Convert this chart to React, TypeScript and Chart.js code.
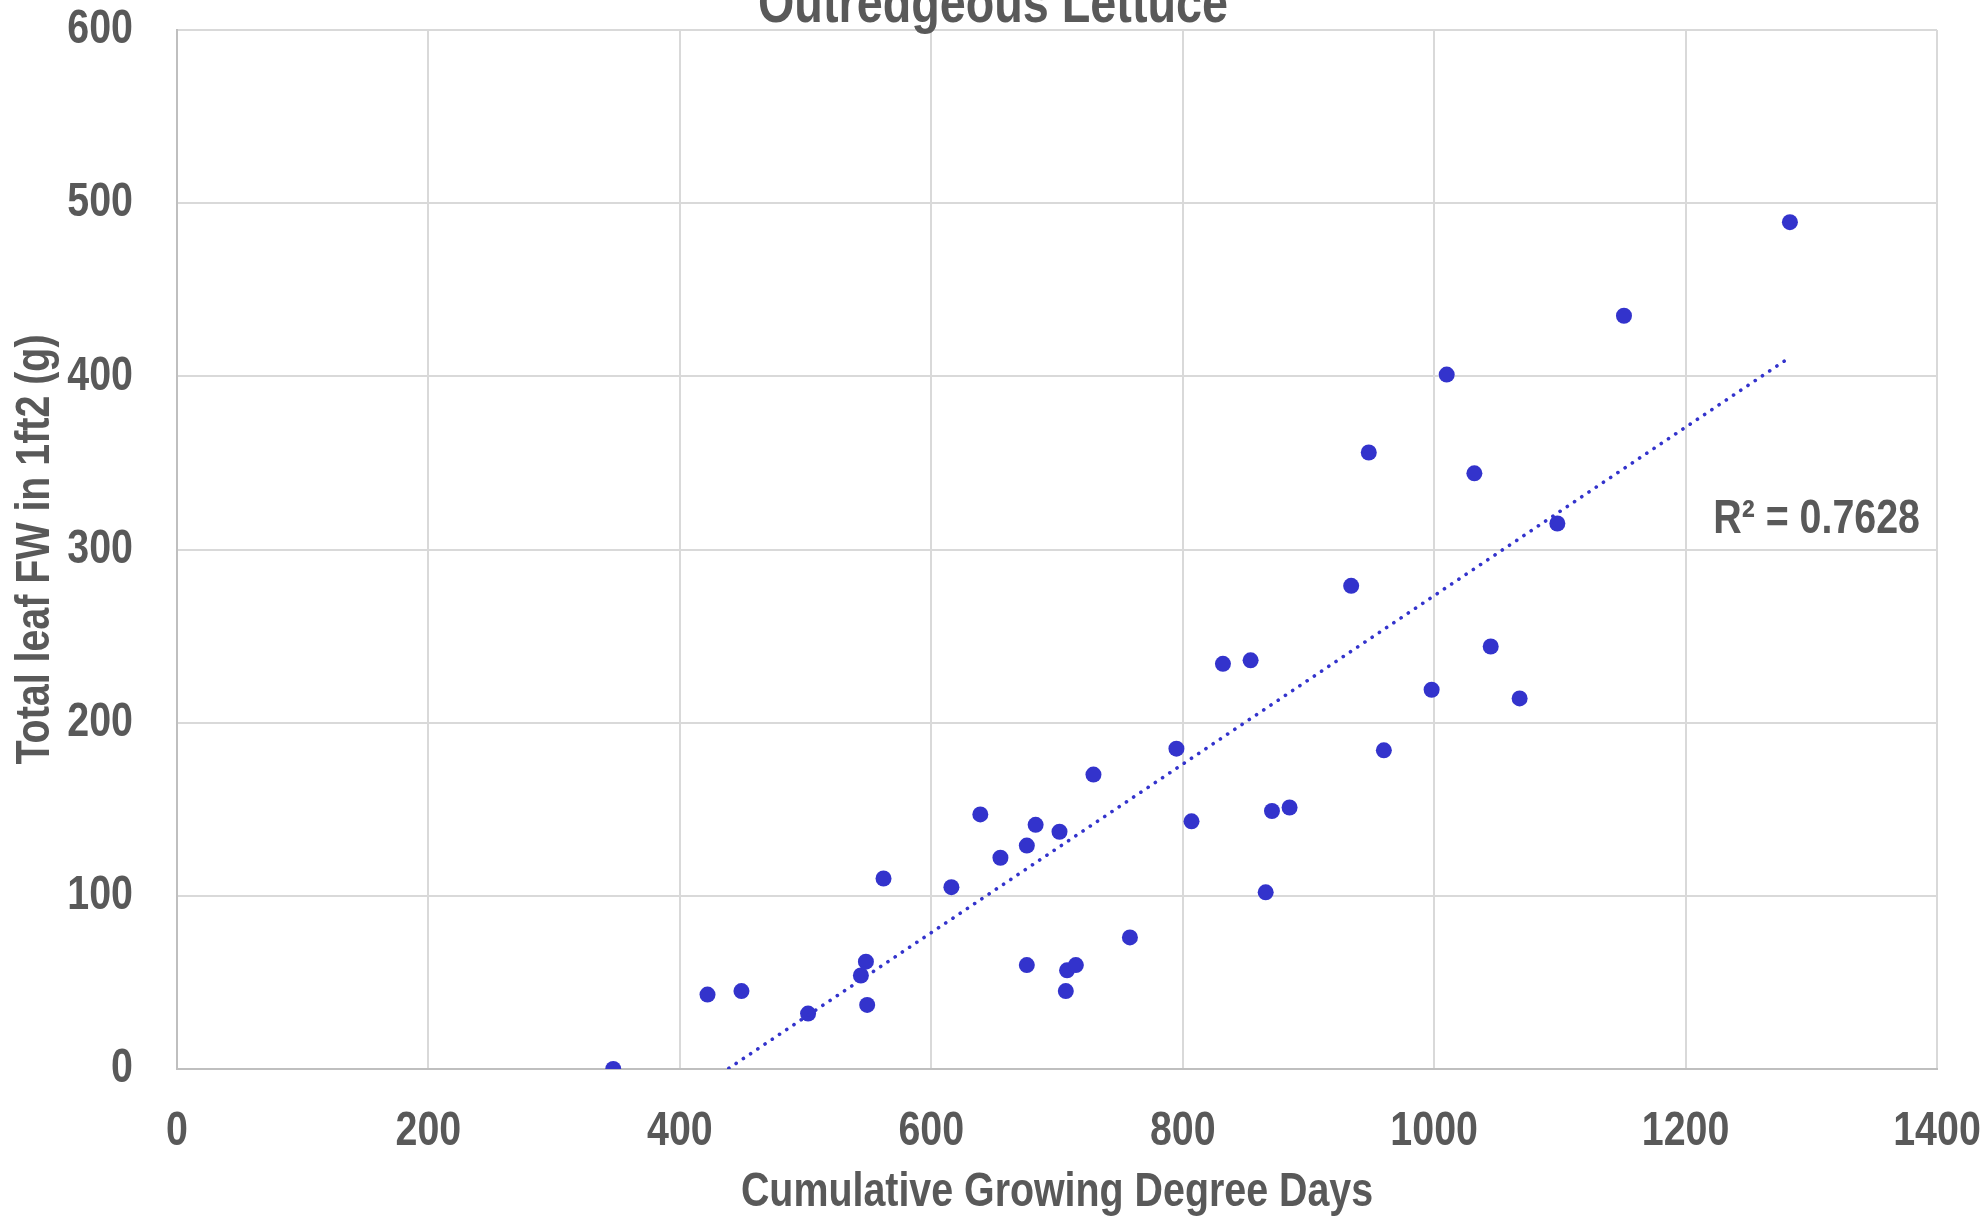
import React, { useEffect, useRef } from "react";
import { Chart, registerables } from "chart.js";

Chart.register(...registerables);

const chartTitle = "Outredgeous Lettuce";
const xAxisTitle = "Cumulative Growing Degree Days";
const yAxisTitle = "Total leaf FW in 1ft2 (g)";
const r2Label = "R² = 0.7628";

const gddValues = [
  347, 422, 449, 502, 544, 548, 549, 562, 616, 639, 655, 676, 676, 683, 702, 707, 708, 715, 729,
  758, 795, 807, 832, 854, 866, 871, 885, 934, 948, 960, 998, 1010, 1032, 1045, 1068, 1098, 1151,
  1283,
];
const fwValues = [
  0, 43, 45, 32, 54, 62, 37, 110, 105, 147, 122, 129, 60, 141, 137, 45, 57, 60, 170, 76, 185, 143,
  234, 236, 102, 149, 151, 279, 356, 184, 219, 401, 344, 244, 214, 315, 435, 489,
];

const xTicks = [0, 200, 400, 600, 800, 1000, 1200, 1400];
const yTicks = [0, 100, 200, 300, 400, 500, 600];

const FONT = "'Liberation Sans', Arial, sans-serif";
const NARROW = 0.82; // horizontal condensing to mimic a narrow face
const TEXT_COLOR = "#595959";
const POINT_COLOR = "#3333cc";

function linearFit(xs: number[], ys: number[]) {
  const n = xs.length;
  const mx = xs.reduce((a, b) => a + b, 0) / n;
  const my = ys.reduce((a, b) => a + b, 0) / n;
  let sxy = 0;
  let sxx = 0;
  for (let i = 0; i < n; i++) {
    sxy += (xs[i] - mx) * (ys[i] - my);
    sxx += (xs[i] - mx) * (xs[i] - mx);
  }
  const slope = sxy / sxx;
  return { slope, intercept: my - slope * mx };
}

function condenseContext(ctx: CanvasRenderingContext2D) {
  const origFill = ctx.fillText.bind(ctx);
  const origMeasure = ctx.measureText.bind(ctx);
  (ctx as any).fillText = (text: string, x: number, y: number) => {
    ctx.save();
    ctx.translate(x, y);
    ctx.scale(NARROW, 1);
    origFill(text, 0, 0);
    ctx.restore();
  };
  (ctx as any).measureText = (text: string) => {
    const m = origMeasure(text);
    return {
      width: m.width * NARROW,
      actualBoundingBoxAscent: m.actualBoundingBoxAscent,
      actualBoundingBoxDescent: m.actualBoundingBoxDescent,
      actualBoundingBoxLeft: m.actualBoundingBoxLeft * NARROW,
      actualBoundingBoxRight: m.actualBoundingBoxRight * NARROW,
      fontBoundingBoxAscent: m.fontBoundingBoxAscent,
      fontBoundingBoxDescent: m.fontBoundingBoxDescent,
    };
  };
}

export default function App() {
  const canvasRef = useRef<HTMLCanvasElement | null>(null);

  useEffect(() => {
    const canvas = canvasRef.current;
    if (!canvas) return;
    const ctx2d = canvas.getContext("2d");
    if (ctx2d) condenseContext(ctx2d);

    const points = gddValues.map((x, i) => ({ x, y: fwValues[i] }));
    const { slope, intercept } = linearFit(gddValues, fwValues);
    const xMin = Math.min(...gddValues);
    const xMax = Math.max(...gddValues);
    const trend = [
      { x: xMin, y: slope * xMin + intercept },
      { x: xMax, y: slope * xMax + intercept },
    ];

    const textPlugin = {
      id: "extraText",
      afterDraw(chart: any) {
        const ctx = chart.ctx;
        ctx.save();
        ctx.fillStyle = TEXT_COLOR;
        ctx.font = `bold 57px ${FONT}`;
        ctx.textAlign = "center";
        ctx.textBaseline = "alphabetic";
        ctx.fillText(chartTitle, chart.width / 2, 22);
        ctx.font = `bold 48px ${FONT}`;
        ctx.textAlign = "right";
        ctx.fillText(r2Label, 1920, 533);
        ctx.restore();
      },
    };

    const zeroPadding = (scale: any) => {
      scale.paddingTop = 0;
      scale.paddingBottom = 0;
      scale.paddingLeft = 0;
      scale.paddingRight = 0;
    };

    const chart = new Chart(canvas, {
      type: "scatter",
      data: {
        datasets: [
          {
            label: "Lettuce",
            data: points,
            backgroundColor: POINT_COLOR,
            borderWidth: 0,
            pointRadius: 8,
            pointHoverRadius: 8,
            order: 1,
          },
          {
            type: "line",
            label: "Trend",
            data: trend,
            borderColor: POINT_COLOR,
            borderWidth: 3.6,
            borderDash: [0.1, 8.6],
            borderCapStyle: "round",
            pointRadius: 0,
            fill: false,
            clip: 0,
            order: 0,
          } as any,
        ],
      },
      options: {
        responsive: false,
        animation: false,
        layout: { padding: { top: 30, right: 49, left: 0, bottom: 0 } },
        plugins: {
          legend: { display: false },
          tooltip: { enabled: false },
          title: { display: false },
        },
        scales: {
          x: {
            type: "linear",
            min: 0,
            max: 1400,
            afterBuildTicks: (scale: any) => {
              scale.ticks = xTicks.map((v) => ({ value: v }));
            },
            ticks: {
              color: TEXT_COLOR,
              font: { family: FONT, size: 48, weight: "bold" },
              padding: 34,
              maxRotation: 0,
              autoSkip: false,
              callback: (v: any) => String(v),
            },
            grid: { color: "#d9d9d9", lineWidth: 2, drawTicks: false },
            border: { color: "#bfbfbf", width: 2 },
            title: {
              display: true,
              text: xAxisTitle,
              color: TEXT_COLOR,
              font: { family: FONT, size: 48, weight: "bold", lineHeight: 1 },
              padding: { top: 0, bottom: 2 },
            },
            afterFit: (scale: any) => {
              scale.height = 150;
              zeroPadding(scale);
            },
          },
          y: {
            type: "linear",
            min: 0,
            max: 600,
            afterBuildTicks: (scale: any) => {
              scale.ticks = yTicks.map((v) => ({ value: v }));
            },
            ticks: {
              color: TEXT_COLOR,
              font: { family: FONT, size: 48, weight: "bold" },
              padding: 44,
              autoSkip: false,
              callback: (v: any) => String(v),
            },
            grid: { color: "#d9d9d9", lineWidth: 2, drawTicks: false },
            border: { color: "#bfbfbf", width: 2 },
            title: {
              display: true,
              text: yAxisTitle,
              color: TEXT_COLOR,
              font: { family: FONT, size: 48, weight: "bold", lineHeight: 1 },
              padding: { top: 12, bottom: 0 },
            },
            afterFit: (scale: any) => {
              scale.width = 177;
              zeroPadding(scale);
            },
          },
        },
      },
      plugins: [textPlugin],
    } as any);

    return () => {
      chart.destroy();
    };
  }, []);

  return (
    <div style={{ position: "absolute", left: 0, top: 0, width: 1986, height: 1219, background: "#fff" }}>
      <canvas ref={canvasRef} width={1986} height={1219} style={{ display: "block" }} />
    </div>
  );
}
